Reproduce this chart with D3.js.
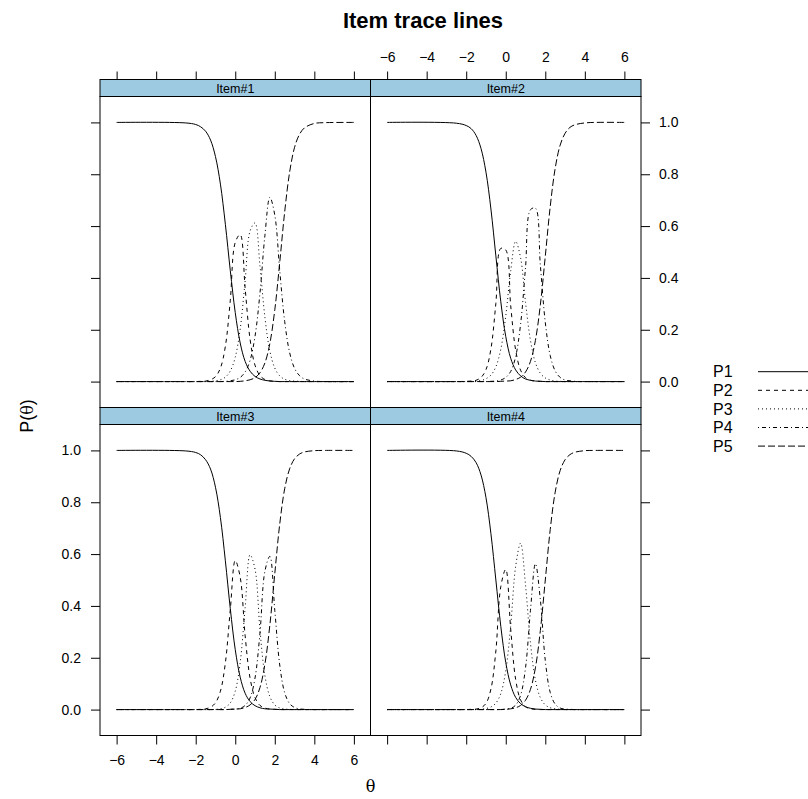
<!DOCTYPE html>
<html>
<head>
<meta charset="utf-8">
<script src="https://cdn.jsdelivr.net/npm/d3@7"></script>
<style>
  body { margin: 0; background: #fff; }
  svg { display: block; }
</style>
</head>
<body>
<div id="container"></div>
<script>
// theta grid
const theta = [-6, -2.5, -2, -1.75, -1.5, -1.25, -1, -0.75, -0.5, -0.25, 0, 0.25, 0.5, 0.75,
               1, 1.25, 1.5, 1.75, 2, 2.25, 2.5, 2.75, 3, 3.25, 3.5, 4, 4.5, 6];

const itemNames = ["Item#1", "Item#2", "Item#3", "Item#4"];
const categories = ["P1", "P2", "P3", "P4", "P5"];

// one row per category, P1..P5
const item1 = [
  [1, .998, .992, .983, .966, .932, .868, .762, .607, .428, .266, .149, .078, .040, .020, .010, .005, .002, .001, 0, 0, 0, 0, 0, 0, 0, 0, 0],
  [0, 0, 0, .001, .002, .007, .019, .052, .136, .314, .537, .567, .360, .163, .063, .023, .008, .003, .001, 0, 0, 0, 0, 0, 0, 0, 0, 0],
  [0, 0, 0, 0, 0, .001, .003, .007, .017, .041, .094, .203, .388, .581, .612, .447, .248, .118, .052, .022, .009, .004, .002, .001, 0, 0, 0, 0],
  [0, 0, 0, 0, 0, 0, 0, 0, .001, .003, .007, .016, .037, .082, .175, .341, .564, .711, .642, .428, .232, .112, .051, .023, .010, .002, 0, 0],
  [0, 0, 0, 0, 0, 0, 0, 0, 0, 0, 0, .001, .003, .007, .015, .034, .072, .147, .277, .460, .655, .808, .904, .954, .979, .996, .999, 1]
];
const item2 = [
  [1, .997, .988, .976, .950, .899, .808, .666, .485, .308, .174, .090, .045, .022, .010, .005, .002, .001, 0, 0, 0, 0, 0, 0, 0, 0, 0, 0],
  [0, 0, .001, .002, .005, .016, .046, .126, .302, .514, .508, .293, .122, .044, .015, .005, .002, .001, 0, 0, 0, 0, 0, 0, 0, 0, 0, 0],
  [0, 0, 0, .001, .002, .004, .011, .025, .057, .125, .253, .427, .541, .478, .306, .159, .073, .032, .014, .006, .002, .001, 0, 0, 0, 0, 0, 0],
  [0, 0, 0, 0, 0, 0, 0, .001, .002, .006, .016, .039, .096, .221, .440, .663, .669, .449, .228, .100, .041, .016, .006, .003, .001, 0, 0, 0],
  [0, 0, 0, 0, 0, 0, 0, 0, 0, .001, .002, .003, .008, .017, .037, .078, .159, .296, .484, .676, .823, .912, .958, .981, .991, .998, 1, 1]
];
const item3 = [
  [1, .998, .992, .983, .964, .928, .858, .741, .574, .389, .231, .125, .063, .031, .015, .007, .003, .002, .001, 0, 0, 0, 0, 0, 0, 0, 0, 0],
  [0, 0, 0, .001, .003, .009, .026, .071, .180, .386, .575, .511, .285, .121, .046, .016, .006, .002, .001, 0, 0, 0, 0, 0, 0, 0, 0, 0],
  [0, 0, 0, 0, 0, 0, .001, .003, .009, .026, .071, .182, .393, .597, .542, .307, .131, .050, .018, .006, .002, .001, 0, 0, 0, 0, 0, 0],
  [0, 0, 0, 0, 0, 0, 0, 0, 0, .001, .002, .005, .016, .045, .122, .295, .534, .591, .382, .172, .065, .023, .008, .003, .001, 0, 0, 0],
  [0, 0, 0, 0, 0, 0, 0, 0, 0, .001, .002, .003, .008, .018, .039, .085, .175, .326, .525, .716, .852, .929, .968, .986, .994, .999, 1, 1]
];
const item4 = [
  [1, .998, .989, .977, .953, .905, .818, .679, .500, .321, .182, .095, .047, .023, .011, .005, .002, .001, 0, 0, 0, 0, 0, 0, 0, 0, 0, 0],
  [0, 0, 0, .001, .002, .007, .024, .079, .226, .475, .541, .311, .117, .037, .011, .003, .001, 0, 0, 0, 0, 0, 0, 0, 0, 0, 0, 0],
  [0, 0, 0, 0, 0, .001, .004, .010, .025, .062, .150, .323, .552, .642, .481, .257, .114, .046, .018, .007, .003, .001, 0, 0, 0, 0, 0, 0],
  [0, 0, 0, 0, 0, 0, 0, 0, 0, 0, .002, .005, .017, .055, .161, .383, .563, .424, .189, .066, .021, .006, .002, .001, 0, 0, 0, 0],
  [0, 0, 0, 0, 0, 0, 0, 0, 0, 0, .001, .003, .007, .016, .036, .078, .161, .305, .5, .695, .839, .922, .964, .984, .993, .999, 1, 1]
];
const itemValues = [item1, item2, item3, item4];

const xTicks = [-6, -4, -2, 0, 2, 4, 6];
const yTicks = [0, 0.2, 0.4, 0.6, 0.8, 1.0];
const xDomain = [-6.84, 6.84];
const yDomain = [-0.1, 1.1];

// line types like R lty 1..5
const dashes = [null, "4,4", "1,3", "1,3,4,3", "7,3"];

const width = 808, height = 799;
const left0 = 100, colW = 270.5, top0 = 79.5, stripH = 17, plotH = 311;
const font = "'Liberation Sans', Arial, Helvetica, sans-serif";
const stripFill = "#9ecae1";

const svg = d3.select("#container").append("svg")
  .attr("width", width)
  .attr("height", height)
  .style("font-family", font);

svg.append("rect").attr("width", width).attr("height", height).attr("fill", "#fff");

// title
svg.append("text")
  .attr("x", 423).attr("y", 27.5)
  .attr("text-anchor", "middle")
  .style("font-size", "22px").style("font-weight", "bold")
  .text("Item trace lines");

const line = d3.line().curve(d3.curveCatmullRom);

itemNames.forEach((name, i) => {
  const col = i % 2, row = Math.floor(i / 2);
  const x0 = left0 + col * colW;
  const y0 = top0 + row * (stripH + plotH);
  const py = y0 + stripH;

  const xScale = d3.scaleLinear().domain(xDomain).range([x0, x0 + colW]);
  const yScale = d3.scaleLinear().domain(yDomain).range([py + plotH, py]);

  const g = svg.append("g");

  // strip
  g.append("rect")
    .attr("x", x0).attr("y", y0).attr("width", colW).attr("height", stripH)
    .attr("fill", stripFill).attr("stroke", "#000").attr("stroke-width", 1);
  g.append("text")
    .attr("x", x0 + colW / 2).attr("y", y0 + stripH / 2)
    .attr("dy", "0.36em")
    .attr("text-anchor", "middle")
    .style("font-size", "12.5px")
    .text(name);

  // curves
  itemValues[i].forEach((vals, k) => {
    const pts = theta.map((t, j) => [xScale(t), yScale(vals[j])]);
    g.append("path")
      .attr("d", line(pts))
      .attr("fill", "none")
      .attr("stroke", "#000")
      .attr("stroke-width", 1)
      .attr("stroke-dasharray", dashes[k]);
  });

  // panel border
  g.append("rect")
    .attr("x", x0).attr("y", py).attr("width", colW).attr("height", plotH)
    .attr("fill", "none").attr("stroke", "#000").attr("stroke-width", 1);

  // axes: only outer sides, labels alternate
  const fmtY = d3.format(".1f");
  if (row === 0) {
    const ax = d3.axisTop(xScale).tickValues(xTicks).tickSize(8).tickPadding(10)
      .tickFormat(col === 1 ? d3.format("d") : "");
    g.append("g").attr("transform", `translate(0,${y0})`).call(ax);
  } else {
    const ax = d3.axisBottom(xScale).tickValues(xTicks).tickSize(9).tickPadding(11)
      .tickFormat(col === 0 ? d3.format("d") : "");
    g.append("g").attr("transform", `translate(0,${py + plotH})`).call(ax);
  }
  if (col === 0) {
    const ay = d3.axisLeft(yScale).tickValues(yTicks).tickSize(9).tickPadding(10)
      .tickFormat(row === 1 ? fmtY : "");
    g.append("g").attr("transform", `translate(${x0},0)`).call(ay);
  } else {
    const ay = d3.axisRight(yScale).tickValues(yTicks).tickSize(9).tickPadding(9)
      .tickFormat(row === 0 ? fmtY : "");
    g.append("g").attr("transform", `translate(${x0 + colW},0)`).call(ay);
  }
});

svg.selectAll(".domain").remove();
svg.selectAll(".tick text")
  .style("font-family", font)
  .style("font-size", "14px")
  .attr("fill", "#000");
svg.selectAll(".tick line").attr("stroke", "#000");

// axis labels
const yLab = svg.append("text")
  .attr("transform", "translate(33,416) rotate(-90)")
  .attr("text-anchor", "middle")
  .style("font-size", "18px");
yLab.append("tspan").text("P(");
yLab.append("tspan").style("font-family", "'DejaVu Serif', serif").style("font-size", "16px").text("θ");
yLab.append("tspan").text(")");

svg.append("text")
  .attr("x", left0 + colW).attr("y", 792)
  .attr("text-anchor", "middle")
  .style("font-family", "'DejaVu Serif', serif")
  .style("font-size", "16px")
  .text("θ");

// legend
const legend = svg.append("g");
categories.forEach((c, k) => {
  const yy = 371.7 + k * 18.6;
  legend.append("text")
    .attr("x", 713).attr("y", yy).attr("dy", "0.36em")
    .style("font-size", "16px")
    .text(c);
  legend.append("line")
    .attr("x1", 758).attr("x2", 830)
    .attr("y1", yy).attr("y2", yy)
    .attr("stroke", "#000").attr("stroke-width", 1)
    .attr("stroke-dasharray", dashes[k]);
});
</script>
</body>
</html>
